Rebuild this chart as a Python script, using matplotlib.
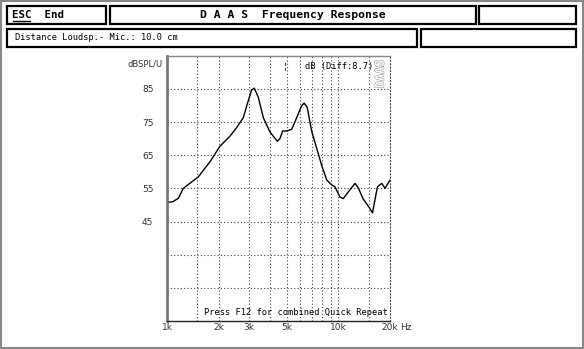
import matplotlib
matplotlib.use('Agg')
import matplotlib.pyplot as plt
import matplotlib.patches as patches
from matplotlib import patheffects

# Measured response (frequency in Hz, level in dB SPL)
freq_hz = [1020, 1080, 1160, 1240, 1330, 1520, 1780, 2030, 2320, 2540,
           2780, 2930, 3110, 3220, 3400, 3640, 3980, 4390, 4550, 4720,
           4970, 5330, 5700, 6090, 6300, 6570, 6970, 7450, 7960, 8540,
           9130, 9530, 10200, 10660, 11400, 12500, 13100, 13900, 15000,
           15800, 16900, 17900, 18700, 20000]
spl_db = [50.8, 51.0, 52.0, 55.0, 56.2, 58.5, 63.1, 67.7, 70.7, 73.3,
          76.3, 80.4, 84.7, 85.2, 82.5, 76.3, 72.0, 69.2, 70.0, 72.3,
          72.3, 72.8, 76.3, 79.9, 80.7, 79.4, 72.3, 67.2, 62.1, 57.5,
          56.0, 55.5, 52.4, 51.9, 53.9, 56.5, 55.0, 51.9, 49.5,
          47.6, 55.5, 56.5, 55.0, 57.5]

grid_freqs = [1500, 2000, 3000, 4000, 5000, 6000, 7000, 8000, 9000, 10000, 15000]
grid_levels = [25, 35, 45, 55, 65, 75, 85]
xtick_pos = [1000, 2000, 3000, 5000, 10000, 20000]
xtick_labels = ['1k', '2k', '3k', '5k', '10k', '20k']
ytick_pos = [45, 55, 65, 75, 85]

W, H = 584, 349
fig = plt.figure(figsize=(W / 100, H / 100), dpi=100)

# screen overlay in pixel units for the menu boxes
ov = fig.add_axes([0, 0, 1, 1])
ov.set_xlim(0, W)
ov.set_ylim(H, 0)
ov.axis('off')

ov.add_patch(patches.Rectangle((0.5, 0.5), W - 2, H - 2, fill=False,
                               edgecolor='#888888', lw=1.5))
boxes = [(7, 6, 99, 18), (110, 6, 366, 18), (479, 6, 97, 18),
         (7, 29, 410, 18), (421, 29, 155, 18)]
for x, y, w, h in boxes:
    ov.add_patch(patches.Rectangle((x, y), w, h, fill=False,
                                   edgecolor='black', lw=1.6))

mono = 'DejaVu Sans Mono'
ov.text(12, 15.5, 'ESC  End', family=mono, weight='bold', fontsize=7.8,
        va='center', ha='left')
ov.plot([12.5, 30], [20.5, 20.5], color='black', lw=1.0)
ov.text(293, 15.5, 'D A A S  Frequency Response', family=mono, weight='bold',
        fontsize=8.2, va='center', ha='center')
ov.text(15, 38, 'Distance Loudsp.- Mic.: 10.0 cm', family=mono, fontsize=6.2,
        va='center', ha='left')

# frequency response plot
left, right, top, bottom = 167.3, 390, 55.7, 321
ax = fig.add_axes([left / W, 1 - bottom / H, (right - left) / W, (bottom - top) / H])
ax.set_xscale('log')
ax.set_xlim(1000, 20000)
ax.set_ylim(15, 95)

for f in grid_freqs:
    ax.axvline(f, color='#444444', lw=0.8, linestyle=(0, (1, 2)))
for lv in grid_levels:
    ax.axhline(lv, color='#444444', lw=0.8, linestyle=(0, (1, 2)))

ax.plot(freq_hz, spl_db, color='black', lw=1.0)

ax.spines['left'].set_color('#777777')
ax.spines['left'].set_linewidth(2.0)
ax.spines['top'].set_color('#888888')
ax.spines['top'].set_linewidth(1.0)
ax.spines['right'].set_linestyle((0, (1, 2)))
ax.spines['right'].set_color('#444444')
ax.spines['right'].set_linewidth(0.8)
ax.spines['bottom'].set_linestyle((0, (1, 1)))
ax.spines['bottom'].set_color('#222222')
ax.spines['bottom'].set_linewidth(1.0)

ax.set_xticks(xtick_pos)
ax.set_xticklabels(xtick_labels)
ax.set_xticks([], minor=True)
ax.set_yticks(ytick_pos)
ax.set_yticklabels([str(v) for v in ytick_pos])
ax.tick_params(axis='both', length=0, labelsize=6.5, colors='#333333')
ax.tick_params(axis='y', pad=10)
ax.tick_params(axis='x', pad=1.5)

ax.text(-0.18, 0.985, 'dBSPL/U', transform=ax.transAxes, fontsize=6.0,
        color='#333333', ha='left', va='top')
ax.text(1.045, -0.008, 'Hz', transform=ax.transAxes, fontsize=6.5,
        color='#333333', ha='left', va='top')
ax.text(0.53, 0.96, '¦', transform=ax.transAxes, family=mono, fontsize=6,
        ha='center', va='center')
ax.text(0.62, 0.96, 'dB (Diff:8.7)', transform=ax.transAxes, family=mono,
        fontsize=6.3, ha='left', va='center')
dt = ax.text(0.985, 0.985, 'DAAS', transform=ax.transAxes, rotation=90,
             family=mono, weight='bold', fontsize=8.5, color='white',
             ha='right', va='top')
dt.set_path_effects([patheffects.withStroke(linewidth=0.8, foreground='#999999')])
ax.text(0.99, 0.015, 'Press F12 for combined Quick Repeat', transform=ax.transAxes,
        family=mono, fontsize=6.3, ha='right', va='bottom')

fig.savefig('out.png', dpi=100)
